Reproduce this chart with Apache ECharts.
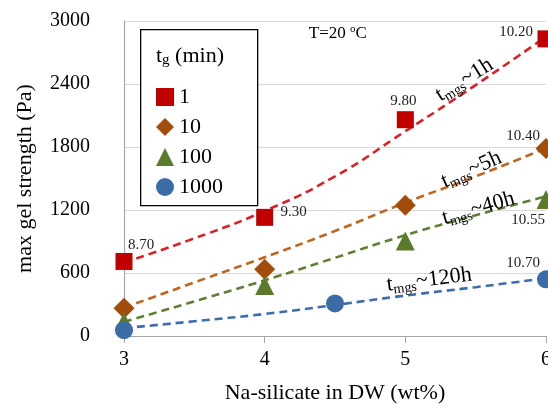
<!DOCTYPE html>
<html>
<head>
<meta charset="utf-8">
<script src="https://cdn.jsdelivr.net/npm/echarts@6/dist/echarts.min.js"></script>
<style>
  html, body { margin: 0; padding: 0; background: #fff; }
  #chart { width: 548px; height: 405px; }
</style>
</head>
<body>
<div id="chart"></div>
<script>
// measured points per gel time tg (min)
const seriesNames = ["1", "10", "100", "1000"];
const x1 = [3, 4, 5, 6];
const y1 = [710, 1130, 2060, 2830];
const lab1 = ["8.70", "9.30", "9.80", "10.20"];
const x10 = [3, 4, 5, 6];
const y10 = [265, 635, 1245, 1785];
const lab10 = ["", "", "", "10.40"];
const x100 = [3, 4, 5, 6];
const y100 = [135, 480, 905, 1300];
const lab100 = ["", "", "", "10.55"];
const x1000 = [3, 4.5, 6];
const y1000 = [55, 310, 540];
const lab1000 = ["", "", "10.70"];

// dashed trend lines
const xTrend = [3, 3.5, 4, 4.5, 5, 5.5, 6];
const trend1 = [700, 930, 1190, 1520, 1950, 2390, 2850];
const trend10 = [270, 510, 750, 1000, 1270, 1520, 1790];
const trend100 = [135, 330, 530, 745, 960, 1150, 1330];
const trend1000 = [75, 140, 210, 295, 385, 465, 550];

const trendNotes = ["1h", "5h", "40h", "120h"];
const xTicks = [3, 4, 5, 6];
const yTicks = [0, 600, 1200, 1800, 2400, 3000];

const FONT = "'Liberation Serif', 'Times New Roman', serif";

const markColors = ["#c00000", "#a34d0d", "#5b7a2c", "#3b6ca6"];
const lineColors = ["#dc1f26", "#c0661c", "#5f7f34", "#3d6cb0"];
const symbols = ["rect", "diamond", "triangle", "circle"];
const sizes = [17, 21, 19, 18];

// label offsets from the marker centre
const labelOffsets = {
  "8.70": [17, -16], "9.30": [29, -5], "9.80": [-2, -19], "10.20": [-30, -7],
  "10.40": [-23, -13], "10.55": [-18, 21], "10.70": [-23, -16]
};

function pts(xs, ys, labs) {
  return xs.map((x, i) => {
    const item = { value: [x, ys[i]] };
    const t = labs[i];
    if (t) {
      item.label = {
        show: true, formatter: t, position: "inside", offset: labelOffsets[t],
        fontFamily: FONT, fontSize: 15, color: "#222"
      };
    }
    return item;
  });
}

const chart = echarts.init(document.getElementById("chart"));

const trends = [trend1, trend10, trend100, trend1000];
const marks = [[x1, y1, lab1], [x10, y10, lab10], [x100, y100, lab100], [x1000, y1000, lab1000]];

const series = [];
trends.forEach((tr, i) => {
  series.push({
    type: "line",
    name: "trend" + i,
    data: xTrend.map((x, j) => [x, tr[j]]),
    smooth: true,
    showSymbol: false,
    silent: true,
    z: 2,
    lineStyle: { color: lineColors[i], width: 2.6, type: [8, 5] }
  });
});
marks.forEach((m, i) => {
  series.push({
    type: "scatter",
    name: seriesNames[i],
    data: pts(m[0], m[1], m[2]),
    symbol: symbols[i],
    symbolSize: sizes[i],
    z: 4,
    itemStyle: { color: markColors[i], opacity: 1 },
    label: { show: false }
  });
});

chart.setOption({
  animation: false,
  backgroundColor: "#fff",
  textStyle: { fontFamily: FONT },
  grid: { left: 124, right: 2, top: 21, bottom: 69, outerBoundsMode: "none", containLabel: false },
  legend: {
    left: 156, top: 86,
    orient: "vertical",
    itemWidth: 18, itemHeight: 18, itemGap: 8,
    padding: 0,
    textStyle: { fontFamily: FONT, fontSize: 22, color: "#000" },
    data: seriesNames.map((n, i) => ({ name: n, icon: symbols[i] }))
  },
  xAxis: {
    type: "value", min: 3, max: 6, interval: 1,
    name: "Na-silicate in DW (wt%)", nameLocation: "middle", nameGap: 46,
    nameTextStyle: { fontFamily: FONT, fontSize: 22, color: "#000" },
    axisLine: { show: true, lineStyle: { color: "#a6a6a6", width: 1.2 } },
    axisTick: { show: true, length: 7, lineStyle: { color: "#a6a6a6" } },
    axisLabel: { fontFamily: FONT, fontSize: 20, color: "#000", margin: 14,
                 formatter: v => xTicks.includes(v) ? String(v) : "" },
    splitLine: { show: false }
  },
  yAxis: {
    type: "value", min: 0, max: 3000, interval: 600,
    name: "max gel strength (Pa)", nameLocation: "middle", nameGap: 88,
    nameTextStyle: { fontFamily: FONT, fontSize: 22, color: "#000" },
    axisLine: { show: true, lineStyle: { color: "#a6a6a6", width: 1.2 } },
    axisTick: { show: false },
    axisLabel: { fontFamily: FONT, fontSize: 20, color: "#000", margin: 34,
                 formatter: v => yTicks.includes(v) ? String(v) : "" },
    splitLine: { show: true, lineStyle: { color: "#d9d9d9", width: 1.2 } }
  },
  series
});

// annotations placed in data coordinates
const notePos = [[5.42, 2440], [5.47, 1585], [5.52, 1215], [5.17, 535]];
const noteAngle = [32, 24, 16, 7];
const graphics = [];

trendNotes.forEach((n, i) => {
  const p = chart.convertToPixel({ gridIndex: 0 }, notePos[i]);
  graphics.push({
    type: "text", x: p[0], y: p[1], rotation: noteAngle[i] * Math.PI / 180, z: 20,
    style: {
      text: "{t|t}{s|mgs}{t|~" + n + "}",
      align: "center", verticalAlign: "middle", fill: "#000",
      rich: {
        t: { fontFamily: FONT, fontSize: 22, fill: "#000" },
        s: { fontFamily: FONT, fontSize: 14, fill: "#000", padding: [11, 0, 0, 0] }
      }
    }
  });
});

const tp = chart.convertToPixel({ gridIndex: 0 }, [4.52, 2885]);
graphics.push({
  type: "text", x: tp[0], y: tp[1], z: 20,
  style: {
    text: "T=20 {o|o}C", align: "center", verticalAlign: "middle",
    fontFamily: FONT, fontSize: 17, fill: "#000",
    rich: { o: { fontFamily: FONT, fontSize: 11, fill: "#000", padding: [0, 0, 8, 0] } }
  }
});

// legend frame and title
graphics.push({
  type: "rect", left: 140, top: 29, z: 1,
  shape: { width: 117, height: 176 },
  style: { fill: "#fff", stroke: "#000", lineWidth: 1.3 }
});
graphics.push({
  type: "text", left: 156, top: 45, z: 20,
  style: {
    text: "{t|t}{s|g}{t| (min)}", fill: "#000",
    rich: {
      t: { fontFamily: FONT, fontSize: 22, fill: "#000" },
      s: { fontFamily: FONT, fontSize: 15, fill: "#000", padding: [8, 0, 0, 0] }
    }
  }
});

chart.setOption({ graphic: graphics });
</script>
</body>
</html>
